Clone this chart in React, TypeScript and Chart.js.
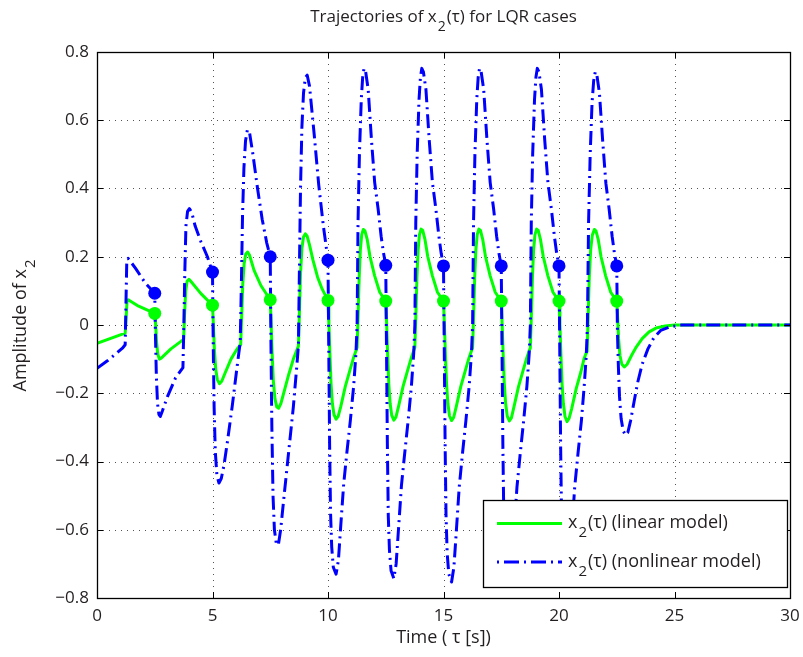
import React, { useEffect, useRef } from 'react';
import { Chart, registerables } from 'chart.js';

Chart.register(...registerables);

const FONT = '"Open Sans", "DejaVu Sans", sans-serif';
const TEXT = '#231f20';

const xTickValues = [0, 5, 10, 15, 20, 25, 30];
const yTickValues = [-0.8, -0.6, -0.4, -0.2, 0, 0.2, 0.4, 0.6, 0.8];

// linear model x2(tau)
const linearTime = [
  0, 1.22, 1.26, 1.3, 1.35, 1.8, 2.5,
  2.54, 2.58, 2.63, 2.7, 2.78, 3.2, 3.75,
  3.79, 3.84, 3.9, 3.98, 4.06, 4.5, 5.0,
  5.04, 5.08, 5.14, 5.21, 5.3, 5.4, 5.55, 5.8, 6.05, 6.22,
  6.26, 6.31, 6.37, 6.44, 6.52, 6.6, 6.8, 7.1, 7.5,
  7.54, 7.58, 7.63, 7.7, 7.78, 7.86, 7.96, 8.1, 8.3, 8.5, 8.72,
  8.76, 8.81, 8.87, 8.94, 9.02, 9.1, 9.2, 9.35, 9.55, 9.75, 10.0,
  10.04, 10.08, 10.13, 10.19, 10.26, 10.35, 10.44, 10.55, 10.75, 10.95, 11.11, 11.2, 11.26, 11.3, 11.35, 11.4, 11.46, 11.53, 11.6, 11.7, 11.82, 12.02, 12.24, 12.5,
  12.54, 12.58, 12.63, 12.69, 12.76, 12.85, 12.94, 13.05, 13.25, 13.45, 13.61, 13.7, 13.76, 13.8, 13.85, 13.9, 13.96, 14.03, 14.1, 14.2, 14.32, 14.52, 14.74, 15.0,
  15.04, 15.08, 15.13, 15.19, 15.26, 15.35, 15.44, 15.55, 15.75, 15.95, 16.11, 16.2, 16.26, 16.3, 16.35, 16.4, 16.46, 16.53, 16.6, 16.7, 16.82, 17.02, 17.24, 17.5,
  17.54, 17.58, 17.63, 17.69, 17.76, 17.85, 17.94, 18.05, 18.25, 18.45, 18.61, 18.7, 18.76, 18.8, 18.85, 18.9, 18.96, 19.03, 19.1, 19.2, 19.32, 19.52, 19.74, 20.0,
  20.04, 20.08, 20.13, 20.19, 20.26, 20.35, 20.44, 20.55, 20.75, 20.95, 21.08, 21.16, 21.22, 21.26, 21.31, 21.37, 21.44, 21.53, 21.6, 21.7, 21.82, 22.02, 22.24, 22.5,
  22.54, 22.58, 22.64, 22.72, 22.83, 22.95, 23.15, 23.35, 23.6, 23.9, 24.2, 24.6, 25.0, 30.0,
];
const linearValue = [
  -0.054, -0.024, 0.02, 0.07, 0.074, 0.055, 0.034,
  0.0, -0.05, -0.085, -0.1, -0.097, -0.07, -0.042,
  0.03, 0.1, 0.128, 0.134, 0.128, 0.092, 0.058,
  0.0, -0.07, -0.13, -0.16, -0.172, -0.165, -0.14, -0.1, -0.072, -0.058,
  0.02, 0.12, 0.18, 0.208, 0.214, 0.205, 0.16, 0.115, 0.074,
  0.0, -0.08, -0.16, -0.215, -0.24, -0.244, -0.23, -0.195, -0.145, -0.1, -0.062,
  0.03, 0.15, 0.225, 0.258, 0.267, 0.26, 0.235, 0.19, 0.14, 0.105, 0.072,
  0.0, -0.08, -0.17, -0.23, -0.263, -0.276, -0.268, -0.24, -0.18, -0.132, -0.095, -0.078, -0.066, 0.02, 0.14, 0.22, 0.265, 0.28, 0.276, 0.25, 0.2, 0.144, 0.096, 0.07,
  0.0, -0.08, -0.17, -0.23, -0.265, -0.279, -0.27, -0.24, -0.18, -0.132, -0.095, -0.078, -0.066, 0.02, 0.14, 0.22, 0.265, 0.281, 0.277, 0.25, 0.2, 0.144, 0.096, 0.07,
  0.0, -0.08, -0.17, -0.23, -0.266, -0.28, -0.271, -0.24, -0.18, -0.132, -0.095, -0.078, -0.067, 0.02, 0.14, 0.22, 0.265, 0.281, 0.277, 0.25, 0.2, 0.144, 0.096, 0.07,
  0.0, -0.08, -0.17, -0.23, -0.267, -0.281, -0.272, -0.24, -0.18, -0.132, -0.095, -0.078, -0.067, 0.02, 0.14, 0.22, 0.265, 0.281, 0.277, 0.25, 0.2, 0.144, 0.096, 0.07,
  0.0, -0.08, -0.17, -0.23, -0.268, -0.283, -0.273, -0.245, -0.185, -0.137, -0.1, -0.085, -0.077, 0.02, 0.14, 0.22, 0.263, 0.28, 0.276, 0.25, 0.2, 0.144, 0.096, 0.07,
  0.02, -0.04, -0.09, -0.115, -0.123, -0.115, -0.088, -0.064, -0.04, -0.02, -0.009, -0.003, 0, 0,
];

// nonlinear model x2(tau)
const nonlinearTime = [
  0, 0.45, 1.1, 1.22, 1.25, 1.29, 1.35, 1.67, 2.1, 2.5,
  2.53, 2.57, 2.62, 2.68, 2.74, 2.83, 3.05, 3.4, 3.72,
  3.76, 3.8, 3.85, 3.92, 4.0, 4.1, 4.25, 4.5, 4.78, 5.0,
  5.03, 5.07, 5.12, 5.19, 5.28, 5.38, 5.5, 5.65, 5.85, 6.05, 6.2,
  6.25, 6.3, 6.36, 6.43, 6.51, 6.6, 6.75, 6.95, 7.15, 7.35, 7.5,
  7.53, 7.57, 7.62, 7.68, 7.76, 7.85, 7.95, 8.1, 8.3, 8.5, 8.65, 8.72,
  8.76, 8.81, 8.87, 8.94, 9.02, 9.1, 9.2, 9.4, 9.6, 9.8, 10.0,
  10.03, 10.07, 10.11, 10.16, 10.23, 10.35, 10.45, 10.55, 10.68, 10.82, 10.97, 11.11, 11.21, 11.26, 11.3, 11.36, 11.44, 11.5, 11.56, 11.63, 11.74, 11.88, 12.02, 12.17, 12.3, 12.4, 12.5,
  12.53, 12.57, 12.61, 12.66, 12.73, 12.85, 12.95, 13.05, 13.18, 13.32, 13.47, 13.61, 13.71, 13.76, 13.8, 13.86, 13.94, 14.0, 14.06, 14.13, 14.24, 14.38, 14.52, 14.67, 14.8, 14.9, 15.0,
  15.03, 15.07, 15.11, 15.16, 15.23, 15.35, 15.45, 15.55, 15.68, 15.82, 15.97, 16.11, 16.21, 16.26, 16.3, 16.36, 16.44, 16.5, 16.56, 16.63, 16.74, 16.88, 17.02, 17.17, 17.3, 17.4, 17.5,
  17.53, 17.57, 17.61, 17.66, 17.73, 17.85, 17.95, 18.05, 18.18, 18.32, 18.47, 18.61, 18.71, 18.76, 18.8, 18.86, 18.94, 19.0, 19.06, 19.13, 19.24, 19.38, 19.52, 19.67, 19.8, 19.9, 20.0,
  20.03, 20.07, 20.11, 20.16, 20.23, 20.35, 20.45, 20.55, 20.68, 20.82, 20.97, 21.09, 21.18, 21.23, 21.28, 21.35, 21.43, 21.5, 21.57, 21.64, 21.75, 21.89, 22.03, 22.17, 22.3, 22.4, 22.5,
  22.53, 22.57, 22.62, 22.69, 22.78, 22.88, 22.98, 23.1, 23.25, 23.4, 23.6, 23.85, 24.1, 24.4, 24.8, 25.3, 30.0,
];
const nonlinearValue = [
  -0.127, -0.105, -0.068, -0.058, 0.05, 0.19, 0.195, 0.166, 0.122, 0.093,
  -0.03, -0.15, -0.23, -0.262, -0.268, -0.252, -0.21, -0.155, -0.125,
  0.0, 0.15, 0.29, 0.333, 0.341, 0.33, 0.29, 0.244, 0.2, 0.154,
  -0.05, -0.24, -0.37, -0.44, -0.463, -0.45, -0.41, -0.34, -0.24, -0.13, -0.05,
  0.12, 0.32, 0.46, 0.54, 0.572, 0.565, 0.5, 0.4, 0.31, 0.24, 0.2,
  -0.05, -0.3, -0.5, -0.6, -0.64, -0.645, -0.6, -0.5, -0.37, -0.24, -0.12, -0.06,
  0.15, 0.4, 0.58, 0.68, 0.725, 0.732, 0.7, 0.56, 0.41, 0.29, 0.19,
  -0.05, -0.35, -0.55, -0.65, -0.71, -0.73, -0.69, -0.59, -0.465, -0.372, -0.278, -0.18, -0.083, 0.0, 0.3, 0.5, 0.66, 0.725, 0.752, 0.742, 0.69, 0.544, 0.418, 0.34, 0.26, 0.212, 0.175,
  -0.05, -0.35, -0.56, -0.66, -0.72, -0.743, -0.7, -0.6, -0.47, -0.376, -0.28, -0.18, -0.083, 0.0, 0.3, 0.5, 0.66, 0.725, 0.752, 0.742, 0.69, 0.544, 0.418, 0.34, 0.26, 0.21, 0.173,
  -0.05, -0.35, -0.56, -0.67, -0.73, -0.753, -0.71, -0.61, -0.475, -0.378, -0.28, -0.18, -0.083, 0.0, 0.3, 0.5, 0.66, 0.725, 0.752, 0.742, 0.69, 0.544, 0.418, 0.34, 0.26, 0.21, 0.173,
  -0.05, -0.35, -0.56, -0.67, -0.73, -0.75, -0.71, -0.61, -0.475, -0.378, -0.28, -0.18, -0.083, 0.0, 0.3, 0.5, 0.66, 0.725, 0.752, 0.742, 0.69, 0.544, 0.418, 0.34, 0.26, 0.21, 0.173,
  -0.05, -0.35, -0.56, -0.67, -0.73, -0.75, -0.71, -0.61, -0.475, -0.378, -0.28, -0.18, -0.09, 0.0, 0.3, 0.5, 0.65, 0.715, 0.742, 0.732, 0.68, 0.54, 0.415, 0.34, 0.26, 0.21, 0.173,
  -0.02, -0.12, -0.21, -0.275, -0.31, -0.323, -0.315, -0.28, -0.225, -0.17, -0.115, -0.07, -0.038, -0.016, -0.005, 0, 0,
];

const markerTime = [2.5, 5, 7.5, 10, 12.5, 15, 17.5, 20, 22.5];
const linearMarker = [0.034, 0.058, 0.074, 0.072, 0.07, 0.07, 0.07, 0.07, 0.07];
const nonlinearMarker = [0.093, 0.155, 0.2, 0.19, 0.175, 0.173, 0.173, 0.173, 0.173];

type Part = [string, boolean];

function drawRich(ctx: CanvasRenderingContext2D, parts: Part[], x: number, y: number, size: number, align: 'left' | 'center') {
  const mainFont = `${size}px ${FONT}`;
  const subFont = `${Math.round(size * 0.85)}px ${FONT}`;
  let total = 0;
  const widths: number[] = [];
  for (const [t, sub] of parts) {
    ctx.font = sub ? subFont : mainFont;
    const w = ctx.measureText(t).width + (sub ? 2 : 0);
    widths.push(w);
    total += w;
  }
  let cx = align === 'center' ? x - total / 2 : x;
  ctx.textAlign = 'left';
  ctx.textBaseline = 'alphabetic';
  parts.forEach(([t, sub], i) => {
    ctx.font = sub ? subFont : mainFont;
    ctx.fillText(t, sub ? cx + 1 : cx, sub ? y + size * 0.5 : y);
    cx += widths[i];
  });
}

const decor = {
  id: 'decor',
  beforeDatasetsDraw(chart: any) {
    const { ctx, chartArea: a, scales } = chart;
    ctx.save();
    ctx.strokeStyle = 'rgba(40,40,40,0.8)';
    ctx.lineWidth = 1;
    ctx.setLineDash([1, 5]);
    for (const v of xTickValues) {
      if (v === 0 || v === 30) continue;
      const px = Math.round(scales.x.getPixelForValue(v)) + 0.5;
      ctx.beginPath();
      ctx.moveTo(px, a.top);
      ctx.lineTo(px, a.bottom);
      ctx.stroke();
    }
    for (const v of yTickValues) {
      if (Math.abs(v) > 0.79) continue;
      const py = Math.round(scales.y.getPixelForValue(v)) + 0.5;
      ctx.beginPath();
      ctx.moveTo(a.left, py);
      ctx.lineTo(a.right, py);
      ctx.stroke();
    }
    ctx.restore();
  },
  afterDatasetsDraw(chart: any) {
    const { ctx, chartArea: a, scales } = chart;
    ctx.save();
    ctx.setLineDash([]);
    ctx.strokeStyle = '#000';
    ctx.lineWidth = 1.3;
    ctx.strokeRect(Math.round(a.left) + 0.5, Math.round(a.top) + 0.5, Math.round(a.right - a.left), Math.round(a.bottom - a.top));
    ctx.lineWidth = 1;
    const tl = 6;
    for (const v of xTickValues) {
      const px = Math.round(scales.x.getPixelForValue(v)) + 0.5;
      ctx.beginPath();
      ctx.moveTo(px, a.bottom);
      ctx.lineTo(px, a.bottom - tl);
      ctx.moveTo(px, a.top);
      ctx.lineTo(px, a.top + tl);
      ctx.stroke();
    }
    for (const v of yTickValues) {
      const py = Math.round(scales.y.getPixelForValue(v)) + 0.5;
      ctx.beginPath();
      ctx.moveTo(a.left, py);
      ctx.lineTo(a.left + tl, py);
      ctx.moveTo(a.right, py);
      ctx.lineTo(a.right - tl, py);
      ctx.stroke();
    }

    // legend box
    const bx = 483, by = 500, bw = 304, bh = 87;
    ctx.fillStyle = '#fff';
    ctx.fillRect(bx, by, bw, bh);
    ctx.lineWidth = 1.3;
    ctx.strokeStyle = '#000';
    ctx.strokeRect(bx + 0.5, by + 0.5, bw, bh);
    ctx.lineWidth = 3;
    ctx.strokeStyle = '#00ff00';
    ctx.beginPath();
    ctx.moveTo(497, 523.5);
    ctx.lineTo(562, 523.5);
    ctx.stroke();
    ctx.strokeStyle = '#0000ff';
    ctx.setLineDash([2, 5, 15, 5]);
    ctx.beginPath();
    ctx.moveTo(497, 562);
    ctx.lineTo(562, 562);
    ctx.stroke();
    ctx.setLineDash([]);
    ctx.fillStyle = TEXT;
    drawRich(ctx, [['x', false], ['2', true], ['(τ) (linear model)', false]], 568, 528, 18, 'left');
    drawRich(ctx, [['x', false], ['2', true], ['(τ) (nonlinear model)', false]], 568, 567, 18, 'left');
    ctx.restore();
  },
  afterDraw(chart: any) {
    const { ctx, chartArea: a } = chart;
    ctx.save();
    ctx.fillStyle = TEXT;
    const cx = (a.left + a.right) / 2;
    drawRich(ctx, [['Trajectories of x', false], ['2', true], ['(τ) for LQR cases', false]], cx, 22, 17, 'center');
    drawRich(ctx, [['Time ( τ [s])', false]], cx, 643, 18, 'center');
    ctx.translate(26, (a.top + a.bottom) / 2);
    ctx.rotate(-Math.PI / 2);
    drawRich(ctx, [['Amplitude of x', false], ['2', true]], 0, 0, 18, 'center');
    ctx.restore();
  },
};

function fmtY(v: number) {
  const r = Math.round(v * 10) / 10;
  if (r === 0) return '0';
  return (r < 0 ? '\u2212' : '') + String(Math.abs(r));
}

export default function App() {
  const ref = useRef<HTMLCanvasElement | null>(null);
  useEffect(() => {
    if (!ref.current) return;
    const pts = (t: number[], v: number[]) => t.map((x, i) => ({ x, y: v[i] }));
    const tickFont = { family: FONT, size: 17 };
    const chart = new Chart(ref.current, {
      type: 'line',
      data: {
        datasets: [
          {
            label: 'linear markers',
            data: pts(markerTime, linearMarker),
            showLine: false,
            pointRadius: 6.5,
            pointBorderWidth: 0,
            pointBackgroundColor: '#00ff00',
            borderColor: '#00ff00',
            order: 0,
          },
          {
            label: 'nonlinear markers',
            data: pts(markerTime, nonlinearMarker),
            showLine: false,
            pointRadius: 6.5,
            pointBorderWidth: 0,
            pointBackgroundColor: '#0000ff',
            borderColor: '#0000ff',
            order: 0,
          },
          {
            label: 'x2(τ) (nonlinear model)',
            data: pts(nonlinearTime, nonlinearValue),
            borderColor: '#0000ff',
            borderWidth: 3,
            borderDash: [14, 5, 2, 5],
            borderJoinStyle: 'round',
            pointRadius: 0,
            fill: false,
            tension: 0,
            order: 1,
          },
          {
            label: 'x2(τ) (linear model)',
            data: pts(linearTime, linearValue),
            borderColor: '#00ff00',
            borderWidth: 3,
            borderJoinStyle: 'round',
            pointRadius: 0,
            fill: false,
            tension: 0,
            order: 2,
          },
        ],
      },
      options: {
        responsive: false,
        animation: false,
        events: [],
        layout: { padding: { top: 52, right: 13, left: 0, bottom: 0 } },
        plugins: { legend: { display: false }, tooltip: { enabled: false }, title: { display: false } },
        scales: {
          x: {
            type: 'linear',
            min: 0,
            max: 30,
            ticks: { stepSize: 5, padding: 8, font: tickFont, color: TEXT, maxRotation: 0 },
            grid: { display: false, drawTicks: false },
            border: { display: false },
            afterFit: (s: any) => { s.height = 59; s.paddingLeft = 0; s.paddingRight = 0; },
          },
          y: {
            type: 'linear',
            min: -0.8,
            max: 0.8,
            ticks: { stepSize: 0.2, padding: 8, font: tickFont, color: TEXT, callback: (v: any) => fmtY(Number(v)) },
            grid: { display: false, drawTicks: false },
            border: { display: false },
            afterFit: (s: any) => { s.width = 97; s.paddingTop = 0; s.paddingBottom = 0; },
          },
        },
      } as any,
      plugins: [decor],
    });
    return () => chart.destroy();
  }, []);
  return (
    <div style={{ position: 'absolute', left: 0, top: 0, width: 803, height: 657, background: '#fff' }}>
      <canvas ref={ref} width={803} height={657} style={{ width: 803, height: 657, display: 'block' }} />
    </div>
  );
}
